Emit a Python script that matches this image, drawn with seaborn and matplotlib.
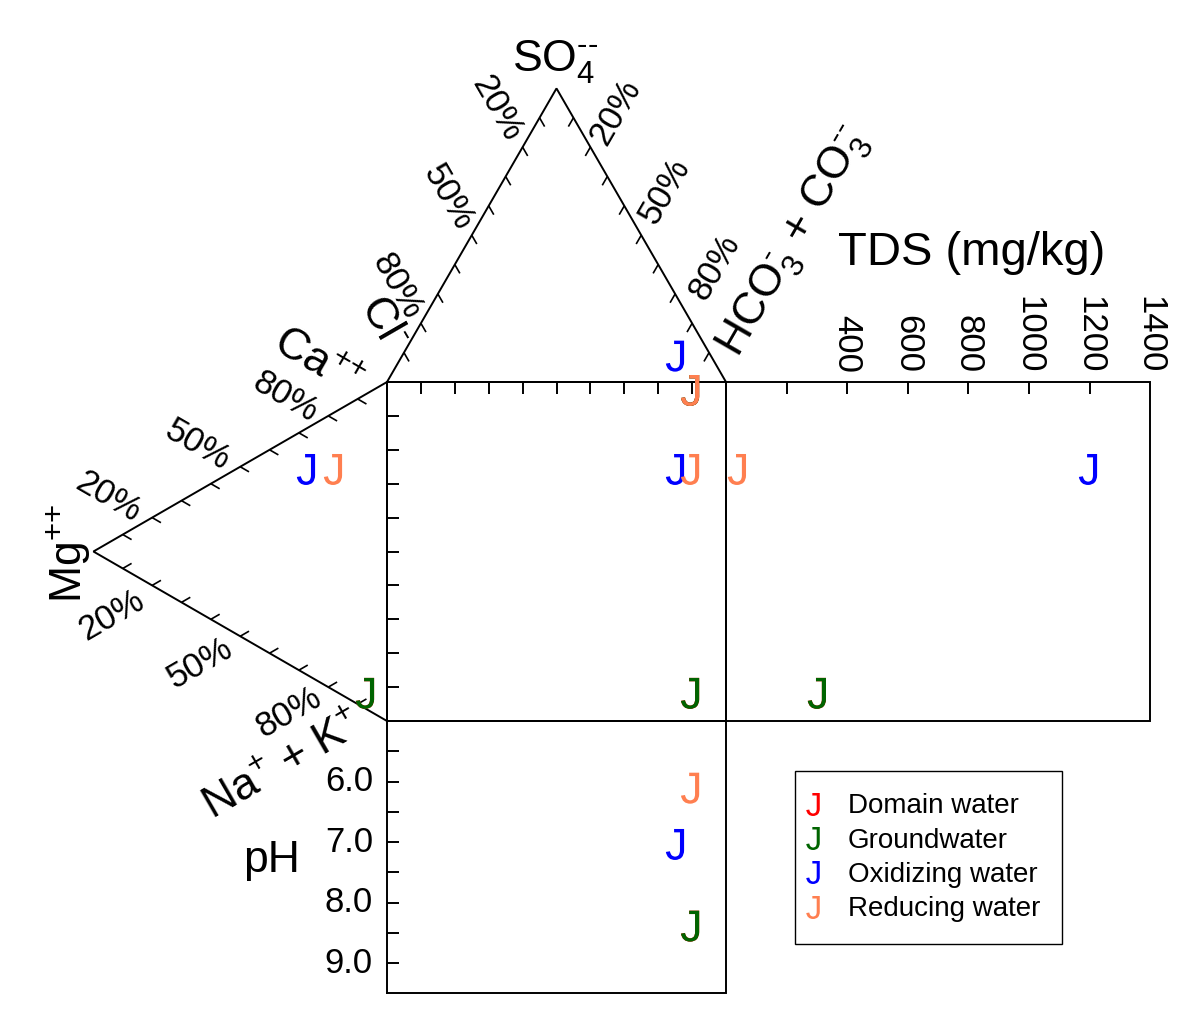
import numpy as np
import pandas as pd
import matplotlib
matplotlib.use("Agg")
import matplotlib.pyplot as plt
import seaborn as sns
from matplotlib.textpath import TextPath
from matplotlib.font_manager import FontProperties
from matplotlib.path import Path
from matplotlib.lines import Line2D

# ---------------- data ----------------
groups = ["Domain water", "Groundwater", "Oxidizing water", "Reducing water"]
colors = ["#ff0000", "#006400", "#0000ff", "#ff7f50"]

# anion composition (% meq)
cl_pct = [10.6, 10.6, 9.2, 10.6]
so4_pct = [0.0, 0.0, 11.7, 0.0]
hco3_pct = [89.4, 89.4, 79.1, 89.4]
# cation composition (% meq)
ca_pct = [6.9, 6.9, 62.9, 67.5]
mg_pct = [7.5, 7.5, 27.6, 18.4]
nak_pct = [85.6, 85.6, 9.5, 14.1]
# total dissolved solids and pH
tds_mgkg = [300, 300, 1195, 36]
ph_vals = [8.25, 8.25, 6.9, 5.97]

tds_tick_vals = [200, 400, 600, 800, 1000, 1200]
tds_label_vals = [400, 600, 800, 1000, 1200, 1400]
ph_tick_vals = [5.5, 6.0, 6.5, 7.0, 7.5, 8.0, 8.5, 9.0]
ph_label_vals = [6.0, 7.0, 8.0, 9.0]
pct_labels = ["20%", "50%", "80%"]

# ---------------- style ----------------
sns.set_theme(style="white")
plt.rcParams["font.family"] = ["Liberation Sans", "DejaVu Sans"]
plt.rcParams["text.color"] = "black"
plt.rcParams["mathtext.fontset"] = "custom"
plt.rcParams["mathtext.rm"] = "Liberation Sans"
plt.rcParams["mathtext.it"] = "Liberation Sans:italic"
plt.rcParams["mathtext.bf"] = "Liberation Sans:bold"
plt.rcParams["mathtext.default"] = "regular"

W_PX, H_PX = 1184, 1014
S = 3.39                      # pixels per diagram unit (square side = 100)
X0, Y0 = 387, 721             # lower-left corner of the central square
H3 = 50 * np.sqrt(3)          # triangle height
TDS_MAX = 1400.0
TDS_W = 125.1                 # width of TDS panel
PH_MIN, PH_MAX = 5.0, 9.5
PH_UNIT = 17.85               # panel units per pH unit
TL = 3.5                      # square tick length
TT = 3.0                      # triangle tick length


def U(px, py):
    return (px - X0) / S, (Y0 - py) / S


fig = plt.figure(figsize=(W_PX / 100, H_PX / 100), dpi=100)
ax = fig.add_axes([0, 0, 1, 1])

LW = 1.4
LC = "black"


def seg(p, q, lw=LW):
    ax.plot([p[0], q[0]], [p[1], q[1]], color=LC, lw=lw, solid_capstyle="butt", zorder=2)


def poly(pts):
    pts = list(pts) + [pts[0]]
    ax.plot([p[0] for p in pts], [p[1] for p in pts], color=LC, lw=LW,
            solid_joinstyle="miter", zorder=2)


# frames
poly([(0, 0), (100, 0), (100, 100), (0, 100)])
poly([(100, 0), (100 + TDS_W, 0), (100 + TDS_W, 100), (100, 100)])
ph_bottom = -(PH_MAX - PH_MIN) * PH_UNIT
poly([(0, ph_bottom), (100, ph_bottom), (100, 0), (0, 0)])
top_c, top_a, top_b = np.array([0, 100.0]), np.array([50, 100 + H3]), np.array([100, 100.0])
poly([top_c, top_a, top_b])
left_ca, left_mg, left_na = np.array([0, 100.0]), np.array([-H3, 50.0]), np.array([0, 0.0])
poly([left_ca, left_mg, left_na])

# square ticks
for k in range(1, 10):
    seg((10 * k, 100), (10 * k, 100 - TL))
    seg((0, 10 * k), (TL, 10 * k))
# TDS ticks
for t in tds_tick_vals:
    x = 100 + t / TDS_MAX * TDS_W
    seg((x, 100), (x, 100 - TL))
# pH ticks
for p in ph_tick_vals:
    y = -(p - PH_MIN) * PH_UNIT
    seg((0, y), (TL, y))

# triangle ticks, each parallel to a neighbouring edge
c60, s60 = 0.5, np.sqrt(3) / 2
edges = [
    (top_c, top_a, np.array([c60, -s60])),
    (top_a, top_b, np.array([-c60, -s60])),
    (left_mg, left_ca, np.array([s60, -c60])),
    (left_mg, left_na, np.array([s60, c60])),
]
for p0, p1, d in edges:
    for k in range(1, 10):
        p = p0 + (p1 - p0) * k / 10
        seg(p, p + d * TT, lw=1.2)

# ---------------- text ----------------
PCT_FS = 25
BIG_FS = 32


def txt(px, py, s, rot=0, fs=PCT_FS, ha="center", va="center", mode="anchor"):
    x, y = U(px, py)
    ax.text(x, y, s, rotation=rot, fontsize=fs, ha=ha, va=va,
            rotation_mode=mode, color="black", zorder=3)


for s, (px, py) in zip(pct_labels, [(497, 108), (448, 197), (397, 286)]):
    txt(px, py, s, rot=-60)
for s, (px, py) in zip(pct_labels, [(615, 112), (665, 191), (715, 267)]):
    txt(px, py, s, rot=60)
for s, (px, py) in zip(pct_labels, [(108, 497), (197, 445), (285, 397)]):
    txt(px, py, s, rot=-30)
for s, (px, py) in zip(pct_labels, [(112, 615), (200, 663), (289, 712)]):
    txt(px, py, s, rot=30)

txt(512, 72, r"SO$_4^{\text{--}}$", fs=BIG_FS, ha="left", va="baseline")
txt(383, 322, r"Cl$^{\text{-}}$", rot=-60, fs=BIG_FS)
txt(795, 243, r"HCO$_3^{\text{-}}$ + CO$_3^{\text{--}}$", rot=60, fs=BIG_FS)
txt(838, 265, "TDS (mg/kg)", fs=34, ha="left", va="baseline")
txt(318, 362, r"Ca$^{\text{++}}$", rot=-30, fs=BIG_FS)
txt(68, 553, r"Mg$^{\text{++}}$", rot=90, fs=BIG_FS)
txt(283, 765, r"Na$^{\text{+}}$ + K$^{\text{+}}$", rot=30, fs=BIG_FS)
txt(243, 872, "pH", fs=BIG_FS, ha="left", va="baseline")

# TDS tick labels (reading downward, ends aligned)
for t in tds_label_vals:
    x = 100 + t / TDS_MAX * TDS_W
    ax.text(x, U(0, 373)[1], f"{t}", rotation=270, fontsize=PCT_FS,
            ha="center", va="bottom", color="black", zorder=3)
# pH tick labels
for p in ph_label_vals:
    y = -(p - PH_MIN) * PH_UNIT
    ax.text(U(373, 0)[0], y, f"{p:.1f}", fontsize=PCT_FS, ha="right",
            va="center", color="black", zorder=3)

# ---------------- J markers ----------------
fp = FontProperties(family="Liberation Sans")
tp = TextPath((0, 0), "J", size=1, prop=fp)
vv = tp.vertices.copy()
cc = tp.codes
real = cc != Path.CLOSEPOLY
xmin, xmax = vv[real, 0].min(), vv[real, 0].max()
ymin, ymax = vv[real, 1].min(), vv[real, 1].max()
glyph_h = ymax - ymin


def j_marker(height_px, drop_px=0.0, shift_px=0.0):
    em_px = height_px / glyph_h
    v = vv.copy()
    v[:, 0] -= (xmin + xmax) / 2 - shift_px / em_px
    v[:, 1] -= (ymin + ymax) / 2 + drop_px / em_px
    v[~real] = v[real][0]
    path = Path(v, cc)
    r = np.max(np.abs(v))
    ms = 2 * r * em_px * 0.72
    return path, ms


j_path, j_ms = j_marker(31, drop_px=8.5)
leg_path, leg_ms = j_marker(23, shift_px=-4.5)

# positions in each panel of the diagram
rows = []
for i, g in enumerate(groups):
    ax_x = hco3_pct[i] + so4_pct[i] / 2
    ax_y = 100 + so4_pct[i] * np.sqrt(3) / 2
    ct_x = -mg_pct[i] * np.sqrt(3) / 2
    ct_y = ca_pct[i] + mg_pct[i] / 2
    sq_x, sq_y = ax_x, ct_y
    tds_x = 100 + tds_mgkg[i] / TDS_MAX * TDS_W
    ph_y = -(ph_vals[i] - PH_MIN) * PH_UNIT
    for x, y in [(ax_x, ax_y), (ct_x, ct_y), (sq_x, sq_y), (tds_x, sq_y), (sq_x, ph_y)]:
        rows.append({"x": x, "y": y, "group": g})
pts = pd.DataFrame(rows)

sns.scatterplot(data=pts, x="x", y="y", hue="group", hue_order=groups,
                palette=dict(zip(groups, colors)), marker=j_path, s=j_ms ** 2,
                linewidth=0, edgecolor="none", legend=False, ax=ax, zorder=4)

handles = [Line2D([], [], marker=leg_path, markersize=leg_ms, color=c,
                  markeredgewidth=0, linestyle="None") for c in colors]
leg = ax.legend(handles, groups, loc="upper left",
                bbox_to_anchor=(795 / W_PX, 1 - 771 / H_PX),
                bbox_transform=fig.transFigure, borderaxespad=0,
                frameon=True, fancybox=False, framealpha=1, edgecolor="black",
                fontsize=20, borderpad=0.8, handlelength=0.0,
                handletextpad=1.1, labelspacing=0.30)
leg.get_frame().set_linewidth(1.0)
for t in leg.get_texts():
    t.set_color("black")

ax.set_xlim(-X0 / S, (W_PX - X0) / S)
ax.set_ylim((Y0 - H_PX) / S, Y0 / S)
ax.set_axis_off()

fig.savefig("out.png", dpi=100, facecolor="white")
